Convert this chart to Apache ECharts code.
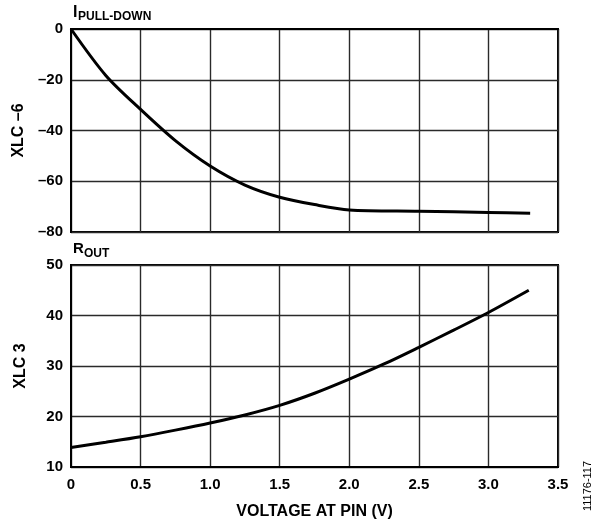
<!DOCTYPE html>
<html>
<head>
<meta charset="utf-8">
<script src="https://cdn.jsdelivr.net/npm/echarts@6/dist/echarts.min.js"></script>
<style>
html,body{margin:0;padding:0;background:#fff;}
#c{width:597px;height:523px;}
</style>
</head>
<body>
<div id="c"></div>
<script>
// Voltage at pin (V)
const pullDownV = [0, 0.25, 0.5, 0.75, 1.0, 1.25, 1.5, 1.75, 2.0, 2.5, 3.0, 3.3];
const pullDownI = [0, -18.3, -31.7, -44, -54, -61.5, -66.3, -69.2, -71.3, -71.8, -72.3, -72.6];
const routV = [0, 0.25, 0.5, 0.75, 1.0, 1.25, 1.5, 1.75, 2.0, 2.25, 2.5, 2.75, 3.0, 3.29];
const routR = [13.85, 14.9, 16.0, 17.3, 18.7, 20.3, 22.2, 24.6, 27.4, 30.4, 33.7, 37.1, 40.6, 45];
const xTicks = [0, 0.5, 1.0, 1.5, 2.0, 2.5, 3.0, 3.5];
const yTopTicks = [-80, -60, -40, -20, 0];
const yBotTicks = [10, 20, 30, 40, 50];

const FONT = '"Liberation Sans", Arial, Helvetica, sans-serif';
const chart = echarts.init(document.getElementById('c'), null, {renderer: 'canvas'});

function pairs(xs, ys) { return xs.map((x, i) => [x, ys[i]]); }

const split = {show: true, lineStyle: {color: '#2a2a2a', width: 1.4}};
const axLine = {show: true, lineStyle: {color: '#000', width: 2}};
const lbl = {fontFamily: FONT, fontWeight: 'bold', fontSize: 15, color: '#000'};

function xAxisFor(idx, showLabels) {
  return {
    type: 'value', gridIndex: idx,
    min: xTicks[0], max: xTicks[xTicks.length - 1], interval: 0.5,
    axisLine: axLine, axisTick: {show: false}, splitLine: split,
    axisLabel: Object.assign({show: showLabels, margin: 10,
      formatter: v => v === 0 ? '0' : v.toFixed(1)}, lbl),
    name: showLabels ? 'VOLTAGE AT PIN (V)' : '',
    nameLocation: 'middle', nameGap: 37,
    nameTextStyle: {fontFamily: FONT, fontWeight: 'bold', fontSize: 16, color: '#000'}
  };
}
function yAxisFor(idx, ticks, name) {
  return {
    type: 'value', gridIndex: idx,
    min: ticks[0], max: ticks[ticks.length - 1], interval: ticks[1] - ticks[0],
    axisLine: axLine, axisTick: {show: false}, splitLine: split,
    axisLabel: Object.assign({margin: 8,
      formatter: v => v < 0 ? '\u2013' + Math.abs(v) : String(v)}, lbl),
    name: name, nameLocation: 'middle', nameGap: 42, nameRotate: 90,
    nameTextStyle: {fontFamily: FONT, fontWeight: 'bold', fontSize: 16, color: '#000'}
  };
}

chart.setOption({
  animation: false,
  backgroundColor: '#fff',
  grid: [
    {left: 71, top: 29, width: 487, height: 203, show: true, borderColor: '#000', borderWidth: 2, backgroundColor: 'transparent'},
    {left: 71, top: 265, width: 487, height: 202, show: true, borderColor: '#000', borderWidth: 2, backgroundColor: 'transparent'}
  ],
  xAxis: [xAxisFor(0, false), xAxisFor(1, true)],
  yAxis: [yAxisFor(0, yTopTicks, 'XLC \u20136'), yAxisFor(1, yBotTicks, 'XLC 3')],
  series: [
    {type: 'line', xAxisIndex: 0, yAxisIndex: 0, data: pairs(pullDownV, pullDownI),
      smooth: 0.3, showSymbol: false, lineStyle: {color: '#000', width: 3}, z: 5},
    {type: 'line', xAxisIndex: 1, yAxisIndex: 1, data: pairs(routV, routR),
      smooth: 0.3, showSymbol: false, lineStyle: {color: '#000', width: 3}, z: 5}
  ],
  graphic: [
    {type: 'text', left: 73, top: 5, style: {text: 'I', font: 'bold 16px ' + FONT, fill: '#000'}},
    {type: 'text', left: 78, top: 11, style: {text: 'PULL-DOWN', font: 'bold 12px ' + FONT, fill: '#000'}},
    {type: 'text', left: 73, top: 241, style: {text: 'R', font: 'bold 15px ' + FONT, fill: '#000'}},
    {type: 'text', left: 84, top: 248, style: {text: 'OUT', font: 'bold 12px ' + FONT, fill: '#000'}},
    {type: 'text', x: 588, y: 486, rotation: Math.PI / 2,
      style: {text: '11176-117', font: '11px ' + FONT, fill: '#000', align: 'center', verticalAlign: 'middle'}}
  ]
});
</script>
</body>
</html>
